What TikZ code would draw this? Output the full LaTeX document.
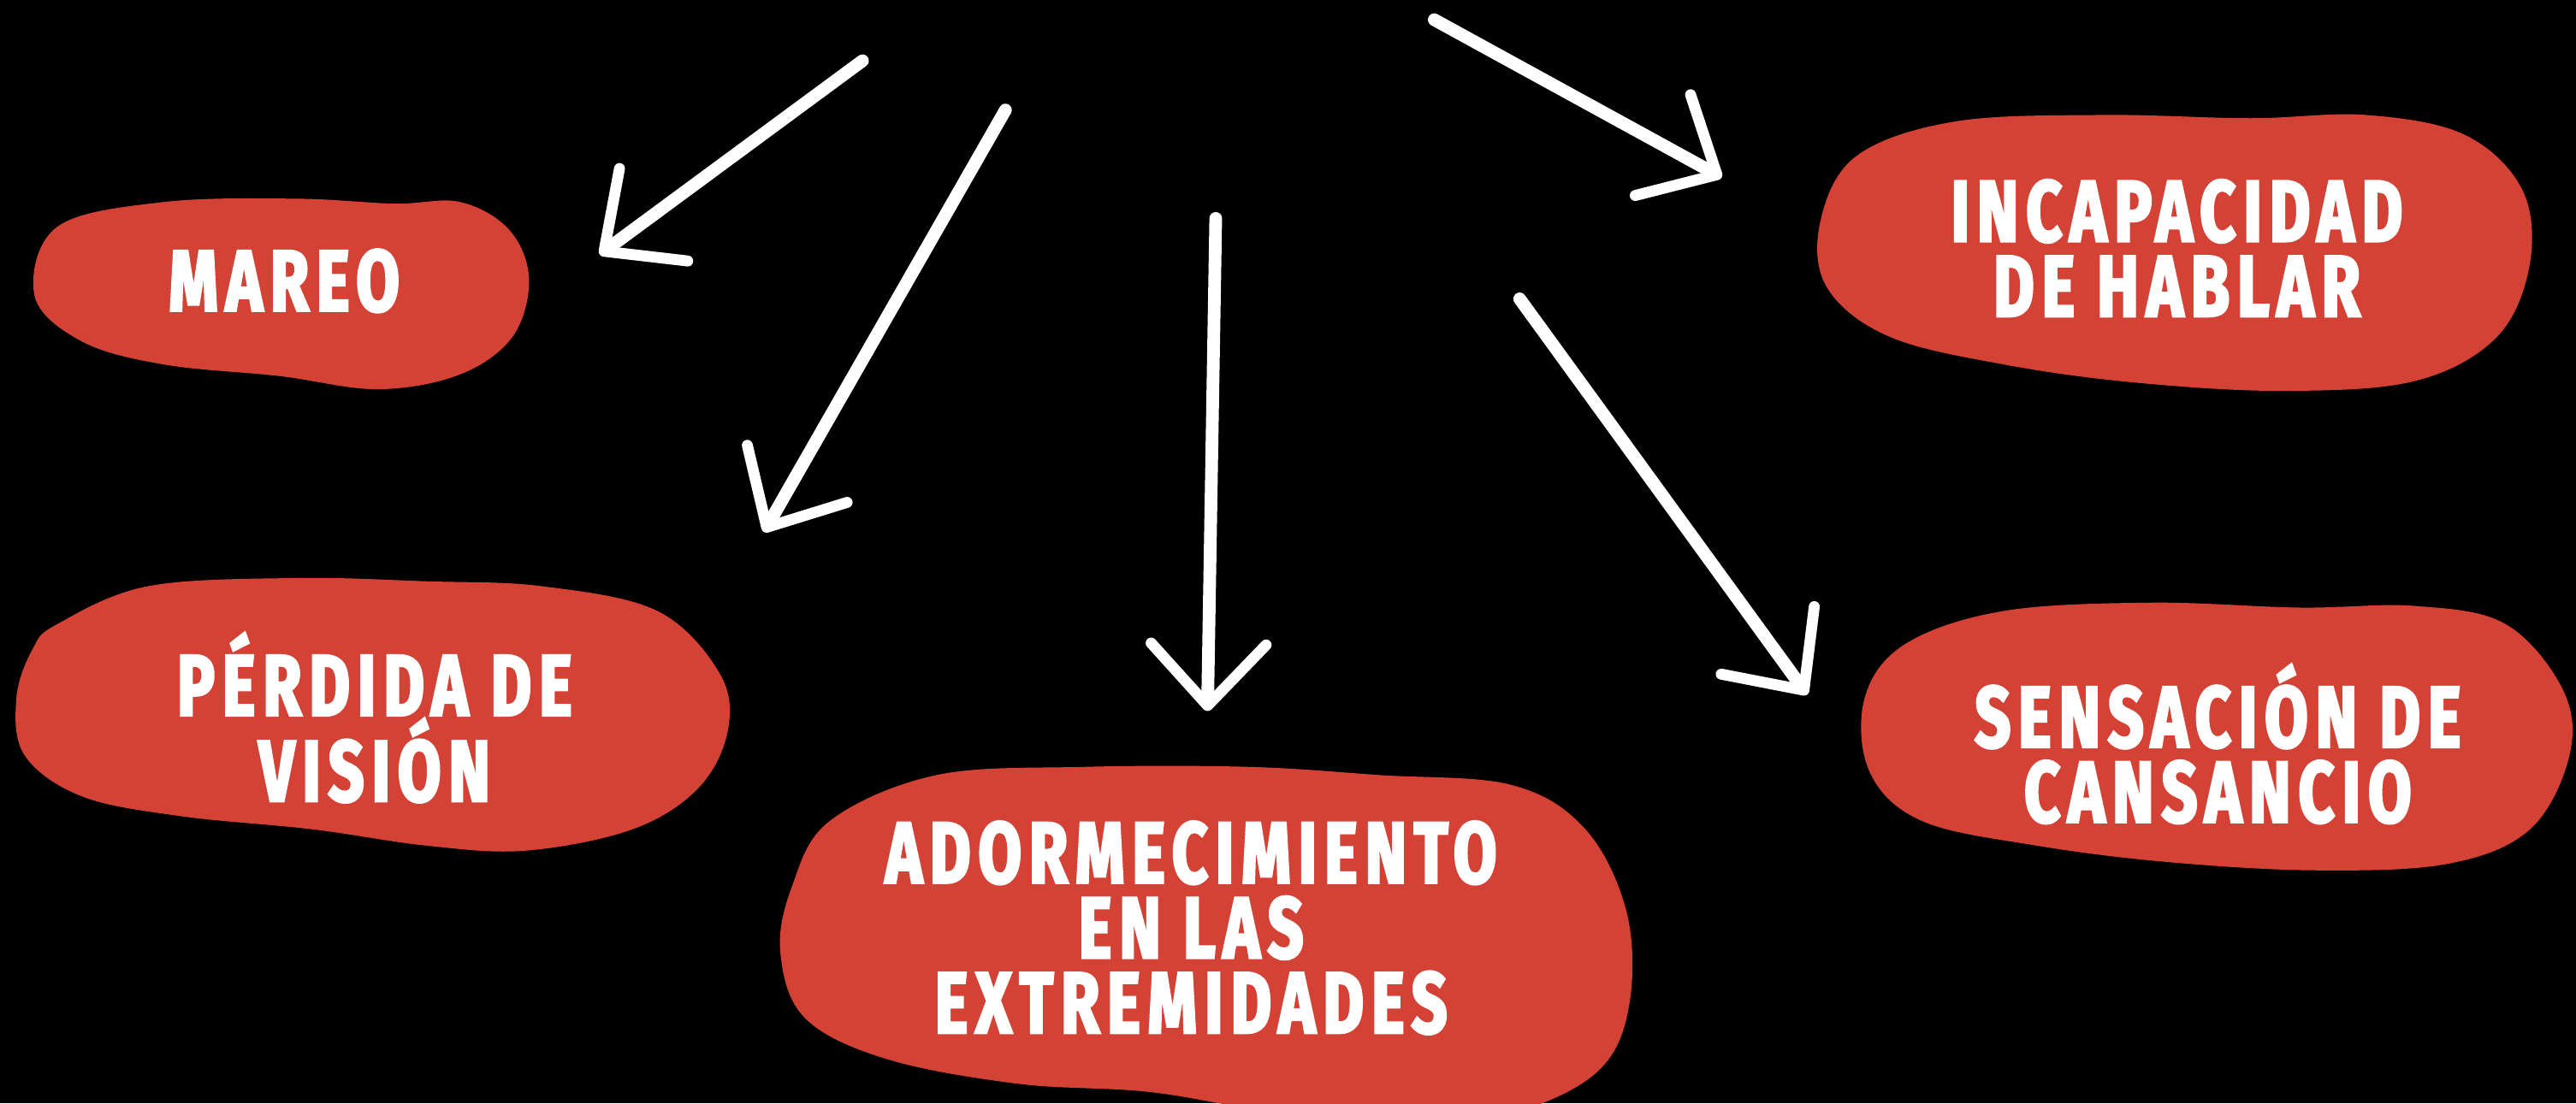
\documentclass[tikz,border=0pt]{standalone}
\usepackage{fontspec}
\newfontfamily\rotulo[FakeStretch=0.72,LetterSpace=9,FakeBold=3]{Fira Sans}
\usetikzlibrary{arrows.meta}

\tikzset{
    mancha/.style={fill=rojo},
    rotulo/.style={text=white,align=center,font=\rotulo\bfseries\fontsize{30}{26}\selectfont},
    flecha/.style={white,line width=4.4pt,line cap=round,
        -{Straight Barb[length=0.75cm,width=1.4cm,line width=3.8pt,round]}}
}

\begin{document}
\begin{tikzpicture}[x=0.02cm,y=-0.02cm]
        %colores
        \definecolor{rojo}{RGB}{212,66,53}

        % Fondo
        \fill[black] (0,0) rectangle (1568,672);
        \useasboundingbox (0,0) rectangle (1568,672);
        \clip (0,0) rectangle (1568,672);

        % Manchas de color
        \fill[mancha] plot[smooth cycle,tension=0.6] coordinates {(35,138) (100,123) (180,121) (240,124) (280,123) (310,140) (322,170) (312,205) (280,228) (230,237) (170,229) (100,222) (50,208) (21,180)};
        \fill[mancha] plot[smooth cycle,tension=0.6] coordinates {(35,380) (90,357) (180,352) (260,354) (330,357) (400,372) (438,410) (443,445) (425,480) (385,505) (320,518) (260,515) (190,505) (110,497) (50,485) (15,460) (10,425) (20,395)};
        \fill[mancha] plot[smooth cycle,tension=0.6] coordinates {(505,500) (570,472) (660,467) (760,467) (840,472) (920,478) (965,505) (990,555) (992,610) (975,650) (930,675) (870,685) (780,678) (700,665) (620,660) (540,645) (490,620) (475,580) (482,540)};
        \fill[mancha] plot[smooth cycle,tension=0.6] coordinates {(1130,95) (1190,74) (1280,70) (1370,72) (1440,70) (1500,82) (1535,115) (1540,160) (1520,205) (1470,232) (1390,238) (1300,233) (1220,222) (1150,205) (1112,175) (1108,135)};
        \fill[mancha] plot[smooth cycle,tension=0.6] coordinates {(1160,392) (1220,372) (1310,367) (1400,370) (1470,369) (1525,380) (1560,420) (1564,460) (1540,505) (1490,526) (1410,530) (1320,525) (1240,515) (1170,500) (1138,470) (1135,425)};

        % Textos
        \node[rotulo] (mareo) at (173,171) {MAREO};
        \node[rotulo] (vision) at (228,437) {PÉRDIDA DE\\VISIÓN};
        \node[rotulo] (extremidades) at (725,565) {ADORMECIMIENTO\\EN LAS\\EXTREMIDADES};
        \node[rotulo] (hablar) at (1325,151) {INCAPACIDAD\\DE HABLAR};
        \node[rotulo] (cansancio) at (1350,453) {SENSACIÓN DE\\CANSANCIO};

        % Flechas
        \coordinate (a0) at (525,37);   \coordinate (a1) at (365,155);
        \coordinate (b0) at (612,67);   \coordinate (b1) at (465,324);
        \coordinate (c0) at (740,133);  \coordinate (c1) at (735,433);
        \coordinate (d0) at (873,12);   \coordinate (d1) at (1048,108);
        \coordinate (e0) at (925,182);  \coordinate (e1) at (1100,423);
        \draw[flecha] (a0) -- (a1);
        \draw[flecha] (b0) -- (b1);
        \draw[flecha] (c0) -- (c1);
        \draw[flecha] (d0) -- (d1);
        \draw[flecha] (e0) -- (e1);
    \end{tikzpicture}
\end{document}
